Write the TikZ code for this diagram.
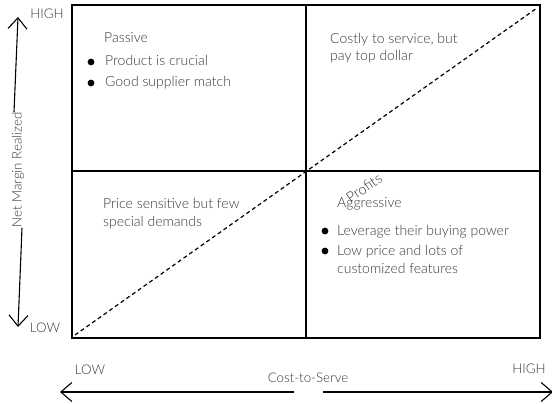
\documentclass[tikz,border=0pt]{standalone}
\usepackage{fontspec}
\IfFontExistsTF{Lato Light}{\setmainfont{Lato Light}}{\setmainfont{Lato}}
\usetikzlibrary{arrows.meta}
\definecolor{txtgray}{HTML}{383838}
\begin{document}
\begin{tikzpicture}[x=1pt,y=-1pt,
  lbl/.style={text=txtgray, font=\fontsize{14}{17.5}\selectfont, inner sep=0pt, anchor=base west, align=left},
  axlbl/.style={text=txtgray, font=\fontsize{13.3}{15}\selectfont, inner sep=0pt},
  bul/.style={circle, fill=black, minimum size=6.8pt, inner sep=0pt},
  frame/.style={line width=2.6pt},
  divider/.style={line width=1.3pt},
  diag/.style={line width=1.2pt, dash pattern=on 4pt off 3pt},
  axis/.style={line width=1.1pt, -{Straight Barb[length=11pt, width=19pt, line width=1.1pt]}}
]
\useasboundingbox (0,0) rectangle (552,404);

% quadrant grid
\coordinate (tl) at (72,5);
\coordinate (br) at (540,338);
\draw[divider] (306,5) -- (306,338);
\draw[divider] (72,171) -- (540,171);
\draw[frame] (tl) rectangle (br);

% profit diagonal
\coordinate (d0) at (75,335);
\coordinate (d1) at (537,8);
\draw[diag] (d0) -- (d1);
\node[axlbl, font=\fontsize{14.5}{16}\selectfont, rotate=35.3] (profits) at (364,188) {Profits};

% top-left quadrant (multi-line nodes sit on the baseline of their last line)
\node[lbl] (passive) at (104,43) {Passive};
\node[lbl] (p1) at (105,66) {Product is crucial};
\node[lbl] (p2) at (105,87) {Good supplier match};
\node[bul] (p1b) at (91,62) {};
\node[bul] (p2b) at (91,83) {};

% top-right quadrant
\node[lbl] (costly) at (330,61) {Costly to service, but\\pay top dollar};

% bottom-left quadrant
\node[lbl] (price) at (103,226) {Price sensitive but few\\special demands};

% bottom-right quadrant
\node[lbl] (aggr) at (337,207) {Aggressive};
\node[lbl] (a1) at (337,235) {Leverage their buying power};
\node[lbl] (a2) at (337,273) {Low price and lots of\\customized features};
\node[bul] (a1b) at (325,231) {};
\node[bul] (a2b) at (325,251) {};

% vertical axis
\node[axlbl, rotate=90] (margin) at (18,170) {Net Margin Realized};
\coordinate (ytop) at (18,17);
\coordinate (ybot) at (18,327);
\draw[axis] ([xshift=-4pt]margin.east) -- (ytop);
\draw[axis] ([xshift=4pt]margin.west) -- (ybot);
\node[axlbl] (yhigh) at (47,14) {HIGH};
\node[axlbl] (ylow) at (45,328) {LOW};

% horizontal axis
\node[axlbl] (cost) at (308,378) {Cost-to-Serve};
\coordinate (xl) at (60,392);
\coordinate (xr) at (553,392);
\coordinate (xm1) at (294,392);
\coordinate (xm2) at (323,392);
\draw[axis] (xm1) -- (xl);
\draw[axis] (xm2) -- (xr);
\node[axlbl] (xlow) at (90,370) {LOW};
\node[axlbl] (xhigh) at (529,369) {HIGH};
\end{tikzpicture}
\end{document}
